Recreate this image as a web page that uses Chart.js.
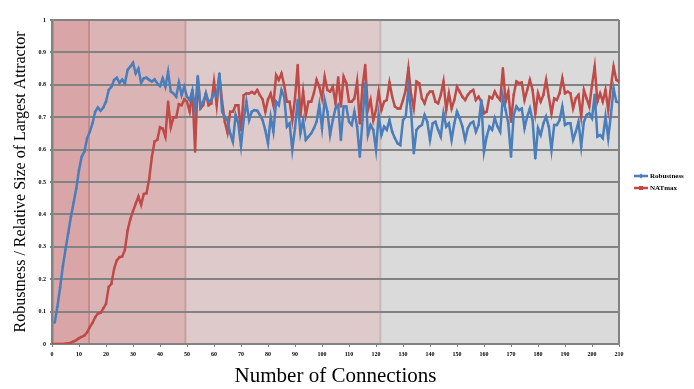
<!DOCTYPE html>
<html>
<head>
<meta charset="utf-8">
<script src="https://cdn.jsdelivr.net/npm/chart.js@4.4.1/dist/chart.umd.min.js"></script>
<style>
  html, body { margin: 0; padding: 0; background: #fff; }
  #wrap { width: 694px; height: 389px; }
</style>
</head>
<body>
<div id="wrap"><canvas id="chart" width="694" height="389"></canvas></div>
<script>
// ================================================
// Robustness vs NATmax by number of connections
// ================================================

// x ticks 0..210, one point per connection count
const xTicks = [0, 10, 20, 30, 40, 50, 60, 70, 80, 90, 100, 110, 120, 130, 140, 150, 160, 170, 180, 190, 200, 210];

const robustness = [
  null, 0.066, 0.115, 0.174, 0.239, 0.292, 0.342, 0.393, 0.436, 0.48,
  0.537, 0.578, 0.594, 0.635, 0.655, 0.681, 0.717, 0.73, 0.72, 0.73,
  0.748, 0.784, 0.794, 0.815, 0.822, 0.806, 0.816, 0.804, 0.846, 0.856,
  0.868, 0.835, 0.85, 0.806, 0.82, 0.822, 0.815, 0.81, 0.817, 0.804,
  0.796, 0.82, 0.794, 0.84, 0.779, 0.773, 0.763, 0.807, 0.768, 0.794,
  0.763, 0.753, 0.784, 0.722, 0.827, 0.732, 0.748, 0.773, 0.748, 0.753,
  0.773, 0.763, 0.835, 0.717, 0.701, 0.691, 0.65, 0.624, 0.707, 0.681,
  0.611, 0.691, 0.748, 0.691, 0.717, 0.722, 0.72, 0.707, 0.691, 0.66,
  0.619, 0.701, 0.655, 0.748, 0.737, 0.784, 0.763, 0.671, 0.681, 0.599,
  0.666, 0.753, 0.65, 0.691, 0.63, 0.64, 0.65, 0.666, 0.686, 0.738,
  0.666, 0.753, 0.717, 0.645, 0.691, 0.727, 0.738, 0.63, 0.733, 0.733,
  0.686, 0.676, 0.717, 0.671, 0.578, 0.691, 0.805, 0.645, 0.676, 0.661,
  0.599, 0.707, 0.645, 0.671, 0.661, 0.691, 0.655, 0.635, 0.619, 0.614,
  0.691, 0.702, 0.789, 0.717, 0.589, 0.661, 0.671, 0.676, 0.707, 0.686,
  0.63, 0.681, 0.686, 0.661, 0.64, 0.712, 0.671, 0.681, 0.63, 0.681,
  0.717, 0.697, 0.671, 0.63, 0.666, 0.681, 0.686, 0.655, 0.676, 0.753,
  0.594, 0.64, 0.671, 0.661, 0.697, 0.671, 0.655, 0.763, 0.722, 0.681,
  0.578, 0.707, 0.733, 0.722, 0.727, 0.666, 0.702, 0.727, 0.691, 0.573,
  0.666, 0.645, 0.681, 0.702, 0.671, 0.599, 0.676, 0.676, 0.691, 0.733,
  0.676, 0.681, 0.681, 0.63, 0.655, 0.686, 0.609, 0.686, 0.707, 0.712,
  0.697, 0.769, 0.64, 0.645, 0.635, 0.702, 0.635, 0.707, 0.789, 0.748,
  0.745
];

const natmax = [
  0, 0, 0, 0, 0, 0.001, 0.002, 0.004, 0.008, 0.012,
  0.018, 0.022, 0.026, 0.036, 0.052, 0.065, 0.083, 0.094, 0.096, 0.11,
  0.124, 0.176, 0.186, 0.232, 0.258, 0.268, 0.27, 0.29, 0.35, 0.385,
  0.41, 0.433, 0.455, 0.43, 0.463, 0.465, 0.51, 0.578, 0.625, 0.63,
  0.669, 0.665, 0.64, 0.748, 0.669, 0.7, 0.7, 0.74, 0.737, 0.755,
  0.748, 0.717, 0.782, 0.594, 0.82, 0.727, 0.737, 0.773, 0.737, 0.742,
  0.81, 0.737, 0.83, 0.748, 0.686, 0.652, 0.717, 0.717, 0.737, 0.737,
  0.66, 0.768, 0.773, 0.773, 0.778, 0.773, 0.784, 0.768, 0.755, 0.717,
  0.755, 0.773, 0.737, 0.83, 0.815, 0.835, 0.799, 0.748, 0.748, 0.691,
  0.758, 0.861, 0.702, 0.779, 0.707, 0.748, 0.748, 0.774, 0.815, 0.794,
  0.758, 0.825, 0.784, 0.779, 0.794, 0.743, 0.823, 0.733, 0.825, 0.805,
  0.748, 0.748, 0.758, 0.81, 0.681, 0.794, 0.861, 0.722, 0.753, 0.691,
  0.722, 0.779, 0.722, 0.748, 0.753, 0.807, 0.763, 0.733, 0.727, 0.727,
  0.753, 0.784, 0.851, 0.769, 0.727, 0.81, 0.805, 0.758, 0.743, 0.769,
  0.779, 0.779, 0.748, 0.743, 0.769, 0.81, 0.722, 0.774, 0.727, 0.753,
  0.794, 0.779, 0.763, 0.753, 0.769, 0.779, 0.784, 0.753, 0.763, 0.748,
  0.712, 0.717, 0.763, 0.758, 0.779, 0.763, 0.753, 0.851, 0.748, 0.779,
  0.686, 0.769, 0.81, 0.805, 0.807, 0.753, 0.784, 0.815, 0.784, 0.712,
  0.774, 0.748, 0.769, 0.815, 0.763, 0.712, 0.758, 0.753, 0.774, 0.82,
  0.774, 0.779, 0.774, 0.727, 0.758, 0.769, 0.702, 0.784, 0.758, 0.733,
  0.799, 0.856, 0.748, 0.774, 0.748, 0.784, 0.722, 0.794, 0.856, 0.815,
  0.81
];

// shaded phases behind the plot (in connection units)
const bandEdges = [0, 13.7, 49.4, 121.6, 210];
const bandColors = ['#d9a5a6', '#dbb5b5', '#decaca', '#dadada'];
const bandLineColors = ['#c98a8b', '#cc9d9d', '#c8b9b9'];

const BLUE = '#4a7ebb';
const RED = '#be4b48';
const GRID = '#828282';
const TICK_FONT = { family: "'Liberation Serif', serif", size: 6, weight: 'bold' };

const bandsPlugin = {
  id: 'bands',
  beforeDraw(chart) {
    const { ctx, chartArea: a, scales: { x } } = chart;
    ctx.save();
    for (let i = 0; i < bandColors.length; i++) {
      const x0 = x.getPixelForValue(bandEdges[i]);
      const x1 = x.getPixelForValue(bandEdges[i + 1]);
      ctx.fillStyle = bandColors[i];
      ctx.fillRect(x0, a.top, x1 - x0, a.bottom - a.top);
    }
    ctx.lineWidth = 2;
    for (let i = 1; i < bandEdges.length - 1; i++) {
      const px = x.getPixelForValue(bandEdges[i]);
      ctx.strokeStyle = bandLineColors[i - 1];
      ctx.beginPath();
      ctx.moveTo(px, a.top);
      ctx.lineTo(px, a.bottom);
      ctx.stroke();
    }
    ctx.restore();
  },
  beforeDatasetsDraw(chart) {
    // right frame line
    const { ctx, chartArea: a } = chart;
    ctx.save();
    ctx.strokeStyle = GRID;
    ctx.lineWidth = 2;
    ctx.beginPath();
    ctx.moveTo(a.right, a.top);
    ctx.lineTo(a.right, a.bottom);
    ctx.stroke();
    ctx.restore();
  }
};

// legend on the right: line + marker + label
const sideLegend = {
  id: 'sideLegend',
  afterDraw(chart) {
    const { ctx } = chart;
    const items = chart.data.datasets;
    ctx.save();
    ctx.font = "bold 7px 'Liberation Serif', serif";
    ctx.textBaseline = 'middle';
    items.forEach((ds, i) => {
      const y = 176 + i * 12;
      ctx.strokeStyle = ds.borderColor;
      ctx.lineWidth = 2.5;
      ctx.beginPath();
      ctx.moveTo(634, y);
      ctx.lineTo(648, y);
      ctx.stroke();
      ctx.fillStyle = ds.borderColor;
      if (ds.pointStyle === 'rect') {
        ctx.fillRect(639, y - 2, 4, 4);
      } else {
        ctx.beginPath();
        ctx.moveTo(641, y - 2.5); ctx.lineTo(643.5, y); ctx.lineTo(641, y + 2.5); ctx.lineTo(638.5, y);
        ctx.closePath();
        ctx.fill();
      }
      ctx.fillStyle = '#000';
      ctx.fillText(ds.label, 650, y);
    });
    ctx.restore();
  }
};

const toPoints = arr => arr.map((v, i) => ({ x: i, y: v }));

new Chart(document.getElementById('chart'), {
  type: 'line',
  data: {
    datasets: [
      {
        label: 'Robustness',
        data: toPoints(robustness),
        borderColor: BLUE,
        backgroundColor: BLUE,
        borderWidth: 2.5,
        pointStyle: 'rectRot',
        pointRadius: 1.6,
        pointBorderWidth: 0,
        tension: 0
      },
      {
        label: 'NATmax',
        data: toPoints(natmax),
        borderColor: RED,
        backgroundColor: RED,
        borderWidth: 2.5,
        pointStyle: 'rect',
        pointRadius: 1.6,
        pointBorderWidth: 0,
        tension: 0
      }
    ]
  },
  options: {
    responsive: false,
    animation: false,
    layout: { padding: { top: 20, right: 75, bottom: 0, left: 0 } },
    plugins: {
      legend: { display: false },
      tooltip: { enabled: false }
    },
    scales: {
      x: {
        type: 'linear',
        min: xTicks[0],
        max: xTicks[xTicks.length - 1],
        afterBuildTicks: s => { s.ticks = xTicks.map(v => ({ value: v })); },
        afterFit: s => { s.height = 45; },
        ticks: { font: TICK_FONT, color: '#000', padding: 4, maxRotation: 0 },
        grid: { drawOnChartArea: false, drawTicks: true, tickLength: 3, color: GRID, lineWidth: 1 },
        border: { color: GRID, width: 2 },
        title: {
          display: true,
          text: 'Number of Connections',
          color: '#000',
          font: { family: "'Liberation Serif', serif", size: 21 },
          padding: { top: 0, bottom: 0 }
        }
      },
      y: {
        min: 0,
        max: 1,
        afterFit: s => { s.width = 52; },
        ticks: {
          stepSize: 0.1,
          font: TICK_FONT,
          color: '#000',
          padding: 4,
          callback: v => (v === 0 || v === 1) ? String(v) : v.toFixed(1)
        },
        grid: { color: GRID, lineWidth: 2, tickLength: 2 },
        border: { color: GRID, width: 2.5 },
        title: {
          display: true,
          text: 'Robustness / Relative Size of Largest Attractor',
          color: '#000',
          font: { family: "'Liberation Serif', serif", size: 16 },
          padding: { top: 11, bottom: 0 }
        }
      }
    }
  },
  plugins: [bandsPlugin, sideLegend]
});
</script>
</body>
</html>
